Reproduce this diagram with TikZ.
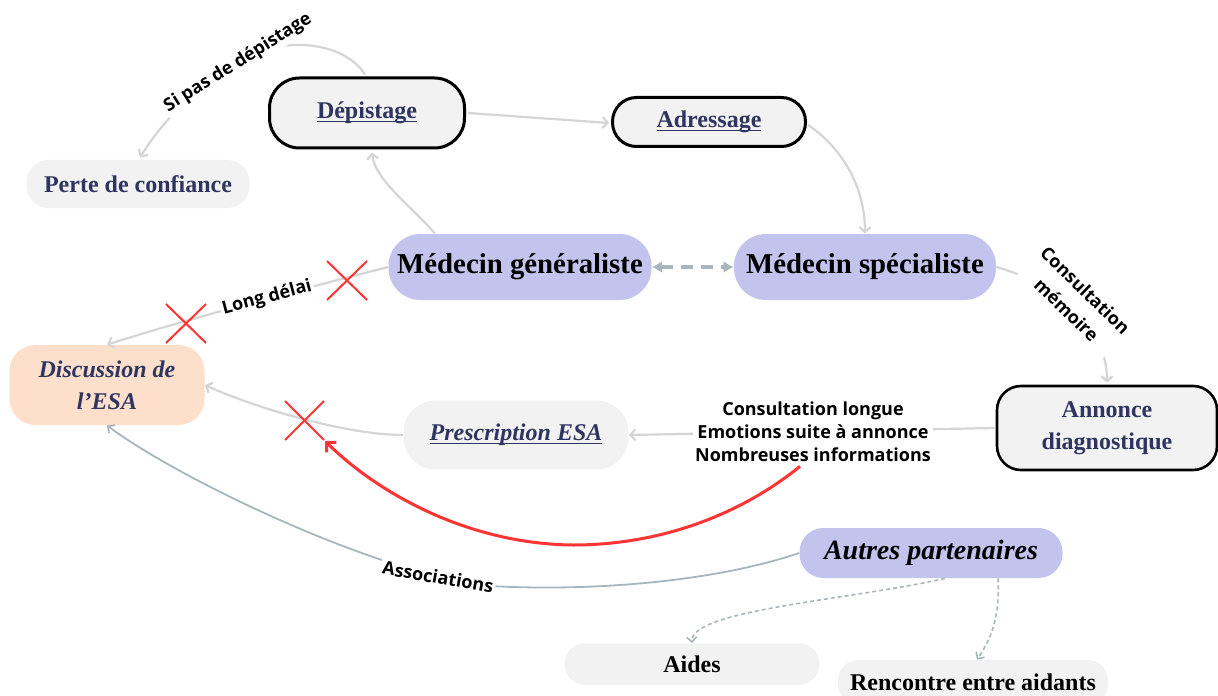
\documentclass[tikz,border=0pt]{standalone}
\usepackage{fontspec}
\setmainfont{Liberation Serif}
\newfontfamily\lblfont{Open Sans}
\usetikzlibrary{arrows.meta,calc}
\definecolor{navy}{HTML}{2E3560}
\definecolor{boxgray}{HTML}{F2F2F2}
\definecolor{lav}{HTML}{C3C4EE}
\definecolor{peach}{HTML}{FDDFCC}
\definecolor{lightconn}{HTML}{D5D5D5}
\definecolor{bluegray}{HTML}{A8B5BC}
\definecolor{xred}{HTML}{FF3535}
\newsavebox\ulbox
\newcommand\myul[1]{\sbox\ulbox{#1}\rlap{\rule[-1.8pt]{\wd\ulbox}{0.8pt}}\usebox\ulbox}
\tikzset{
  base/.style={rectangle, align=center, inner sep=0pt},
  graybox/.style={base, fill=boxgray, text=navy},
  blackbox/.style={graybox, draw=black, line width=1.5pt},
  lavbox/.style={base, fill=lav, text=black},
  f12/.style={font=\bfseries\fontsize{12}{16}\selectfont},
  f12it/.style={font=\bfseries\itshape\fontsize{12}{16}\selectfont},
  f14/.style={font=\bfseries\fontsize{14.4}{17}\selectfont},
  f14it/.style={font=\bfseries\itshape\fontsize{14}{17}\selectfont},
  lbl/.style={font=\lblfont\bfseries\fontsize{9}{11.5}\selectfont, fill=white, inner sep=1pt, align=center},
  gline/.style={draw=lightconn, line width=1.1pt, -{Straight Barb[length=2.5pt,width=5.5pt]}},
  bline/.style={draw=bluegray, line width=0.9pt, -{Straight Barb[length=2.5pt,width=5pt]}},
  dline/.style={draw=bluegray, line width=0.8pt, dash pattern=on 2pt off 1.5pt, -{Straight Barb[length=2.5pt,width=5pt]}},
  dashdbl/.style={draw=bluegray, line width=1.6pt, dash pattern=on 6pt off 4pt, {Latex[length=5pt,width=6pt]}-{Latex[length=5pt,width=6pt]}},
  redarc/.style={draw=xred, line width=1.5pt, -{Straight Barb[length=3.5pt,width=7pt]}},
  redx/.style={draw=xred, line width=1pt}
}
\begin{document}
\begin{tikzpicture}[x=0.5pt,y=-0.5pt]
\useasboundingbox (0,0) rectangle (1218,695);
% nodes
\node[blackbox, f12, minimum width=97.5pt, minimum height=35pt, rounded corners=15pt] (dep) at (367,113) {\myul{Dépistage}};
\node[blackbox, f12, minimum width=96.5pt, minimum height=24.5pt, rounded corners=12pt] (adr) at (709,122) {\myul{Adressage}};
\node[graybox, f12, minimum width=111.5pt, minimum height=24pt, rounded corners=11pt] (perte) at (138,184) {Perte de confiance};
\node[lavbox, f14, minimum width=131.5pt, minimum height=33pt, rounded corners=16pt] (mg) at (520,267) {Médecin généraliste};
\node[lavbox, f14, minimum width=131pt, minimum height=33pt, rounded corners=16pt] (ms) at (865,267) {Médecin spécialiste};
\node[base, fill=peach, text=navy, f12it, minimum width=97.5pt, minimum height=40pt, rounded corners=13pt] (esa) at (107,385) {Discussion de\\l’ESA};
\node[graybox, f12it, minimum width=112.5pt, minimum height=34.5pt, rounded corners=16pt] (presc) at (516,435) {\myul{Prescription ESA}};
\node[blackbox, line width=1.3pt, f12, minimum width=110pt, minimum height=42pt, rounded corners=12pt] (ann) at (1107,428) {Annonce\\diagnostique};
\node[lavbox, f14it, minimum width=131.5pt, minimum height=25pt, rounded corners=12pt] (autres) at (931,553) {Autres partenaires};
\node[graybox, text=black, f12, minimum width=127.5pt, minimum height=20.5pt, rounded corners=10pt] (aides) at (692,664) {Aides};
\node[graybox, text=black, f12, minimum width=135pt, minimum height=22pt, rounded corners=10pt] (renc) at (973,682) {Rencontre entre aidants};
% connectors
\draw[gline] ($(mg.north)+(-85,0)$) .. controls (410,205) and (375,180) .. ($(dep.south)+(5,3)$);
\draw[gline] ($(dep.north)+(-2,-2)$) .. controls (340,35) and (260,35) .. (215,75) .. controls (185,100) and (160,125) .. ($(perte.north)+(2,-2)$);
\draw[gline] ($(dep.east)+(2,0)$) -- ($(adr.west)+(-2,1)$);
\draw[gline] ($(adr.east)+(1,3)$) .. controls (845,150) and (865,190) .. (ms.north);
\draw[dashdbl] (mg.east) -- (ms.west);
\draw[gline] (ms.east) .. controls (1050,282) and (1107,320) .. ($(ann.north)+(0,-2)$);
\draw[gline] ($(ann.west)+(-1,0)$) -- (presc.east);
\draw[gline] (presc.west) .. controls (350,435) and (260,410) .. (esa.east);
\draw[gline] (mg.west) .. controls (330,282) and (200,315) .. (esa.north);
\draw[bline] (autres.west) .. controls (720,580) and (600,592) .. (490,586) .. controls (380,575) and (180,480) .. (esa.south);
\draw[dline] ($(autres.south)+(14,0)$) .. controls (850,600) and (690,610) .. (aides.north);
\draw[dline] ($(autres.south)+(67,0)$) .. controls (1000,620) and (990,640) .. ($(renc.north)+(4,0)$);
% labels
\node[lbl, rotate=32] (lsi) at (238,63) {Si pas de dépistage};
\node[lbl, rotate=15] (lld) at (267,298) {Long délai};
\node[lbl, rotate=-44] (lcm) at (1076,300) {Consultation\\[2pt]mémoire};
\node[lbl] (lblC) at (813,432) {Consultation longue\\Emotions suite à annonce\\Nombreuses informations};
\node[lbl, rotate=-10] (las) at (438,577) {Associations};
% red arc
\coordinate (redend) at (325,441);
\draw[redarc] ($(lblC.south)+(-13,2)$) .. controls (740,515) and (660,545) .. (573,545) .. controls (470,544) and (380,495) .. (redend);
% red crosses
\draw[redx] (327,261) -- (367,300) (327,300) -- (367,261);
\draw[redx] (166,304) -- (206,343) (166,343) -- (206,304);
\draw[redx] (285,401) -- (324,440) (285,440) -- (324,401);
\end{tikzpicture}
\end{document}
